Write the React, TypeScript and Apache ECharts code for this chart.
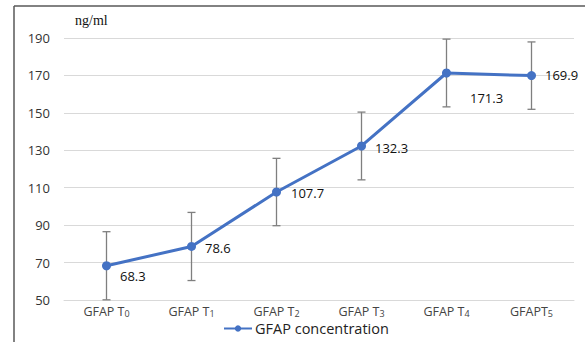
import React, { useEffect, useRef } from "react";
import * as echarts from "echarts";

const categoryNames = ["GFAP T", "GFAP T", "GFAP T", "GFAP T", "GFAP T", "GFAPT"];
const categorySubs = ["0", "1", "2", "3", "4", "5"];
const values = [68.3, 78.6, 107.7, 132.3, 171.3, 169.9];
const errors = [18.2, 18.2, 18.0, 18.1, 18.1, 18.0];
const yTicks = { min: 50, max: 190, interval: 20 };
const seriesName = "GFAP concentration";
const unitLabel = "ng/ml";

const labelOffsets: [number, number][] = [
  [4, 10],
  [4, 2],
  [5, 1],
  [4, 2],
  [14, 25],
  [4, -1],
];

export default function App() {
  const ref = useRef<HTMLDivElement>(null);
  useEffect(() => {
    if (!ref.current) return;
    const chart = echarts.init(ref.current, null, { renderer: "svg" });
    const categories = categoryNames.map((n, i) => n + "|" + categorySubs[i]);
    const errData = values.map((v, i) => [i, v - errors[i], v + errors[i]]);
    chart.setOption({
      animation: false,
      backgroundColor: "#ffffff",
      grid: { left: 64, right: 11, top: 38, bottom: 42 },
      legend: {
        bottom: 1,
        left: 218,
        itemWidth: 28,
        itemHeight: 8,
        itemGap: 4,
        data: [seriesName],
        textStyle: { fontFamily: "Open Sans", fontSize: 14.5, lineHeight: 14, color: "#222", padding: [0, 0, 0, -2] },
      },
      xAxis: {
        type: "category",
        data: categories,
        axisLine: { show: true, lineStyle: { color: "#d9d9d9", width: 1 } },
        axisTick: { show: false },
        axisLabel: {
          interval: 0,
          hideOverlap: false,
          margin: 6,
          formatter: (v: string) => {
            const [n, s] = v.split("|");
            return "{a|" + n + "}{s|" + s + "}";
          },
          rich: {
            a: { fontFamily: "Open Sans", fontSize: 12.5, color: "#444", verticalAlign: "bottom", lineHeight: 12 },
            s: { fontFamily: "Open Sans", fontSize: 9, color: "#444", verticalAlign: "bottom", lineHeight: 10 },
          },
        },
      },
      yAxis: {
        type: "value",
        min: yTicks.min,
        max: yTicks.max,
        interval: yTicks.interval,
        axisLine: { show: false },
        axisTick: { show: false },
        splitLine: { lineStyle: { color: "#d9d9d9", width: 1 } },
        axisLabel: { fontFamily: "Open Sans", fontSize: 13, color: "#333", margin: 14 },
      },
      graphic: [
        { type: "line", shape: { x1: 14, y1: 6, x2: 585, y2: 6 }, style: { stroke: "#595959", lineWidth: 1.5 } },
        { type: "line", shape: { x1: 14, y1: 6, x2: 14, y2: 342 }, style: { stroke: "#595959", lineWidth: 1.5 } },
        {
          type: "text",
          left: 75,
          top: 13,
          style: { text: unitLabel, font: "14px 'Liberation Serif'", fill: "#111" },
        },
      ],
      series: [
        {
          type: "custom",
          name: "err",
          z: 1,
          silent: true,
          renderItem: (params: any, api: any) => {
            const i = api.value(0);
            const lo = api.coord([i, api.value(1)]);
            const hi = api.coord([i, api.value(2)]);
            const cw = 4;
            const st = { stroke: "#7f7f7f", lineWidth: 1.3 };
            return {
              type: "group",
              children: [
                { type: "line", shape: { x1: lo[0], y1: lo[1], x2: hi[0], y2: hi[1] }, style: st },
                { type: "line", shape: { x1: lo[0] - cw, y1: lo[1], x2: lo[0] + cw, y2: lo[1] }, style: st },
                { type: "line", shape: { x1: hi[0] - cw, y1: hi[1], x2: hi[0] + cw, y2: hi[1] }, style: st },
              ],
            };
          },
          encode: { x: 0, y: [1, 2] },
          data: errData,
        },
        {
          type: "line",
          name: seriesName,
          z: 3,
          data: values.map((v, i) => ({
            value: v,
            label: { offset: labelOffsets[i] },
          })),
          symbol: "circle",
          symbolSize: 9,
          lineStyle: { color: "#4472C4", width: 3 },
          itemStyle: { color: "#4472C4" },
          label: {
            show: true,
            position: "right",
            fontFamily: "Open Sans",
            fontSize: 13,
            color: "#111",
          },
        },
      ],
    });
    return () => chart.dispose();
  }, []);
  return (
    <div
      ref={ref}
      style={{ position: "fixed", left: 0, top: 0, width: 585, height: 342 }}
    />
  );
}
